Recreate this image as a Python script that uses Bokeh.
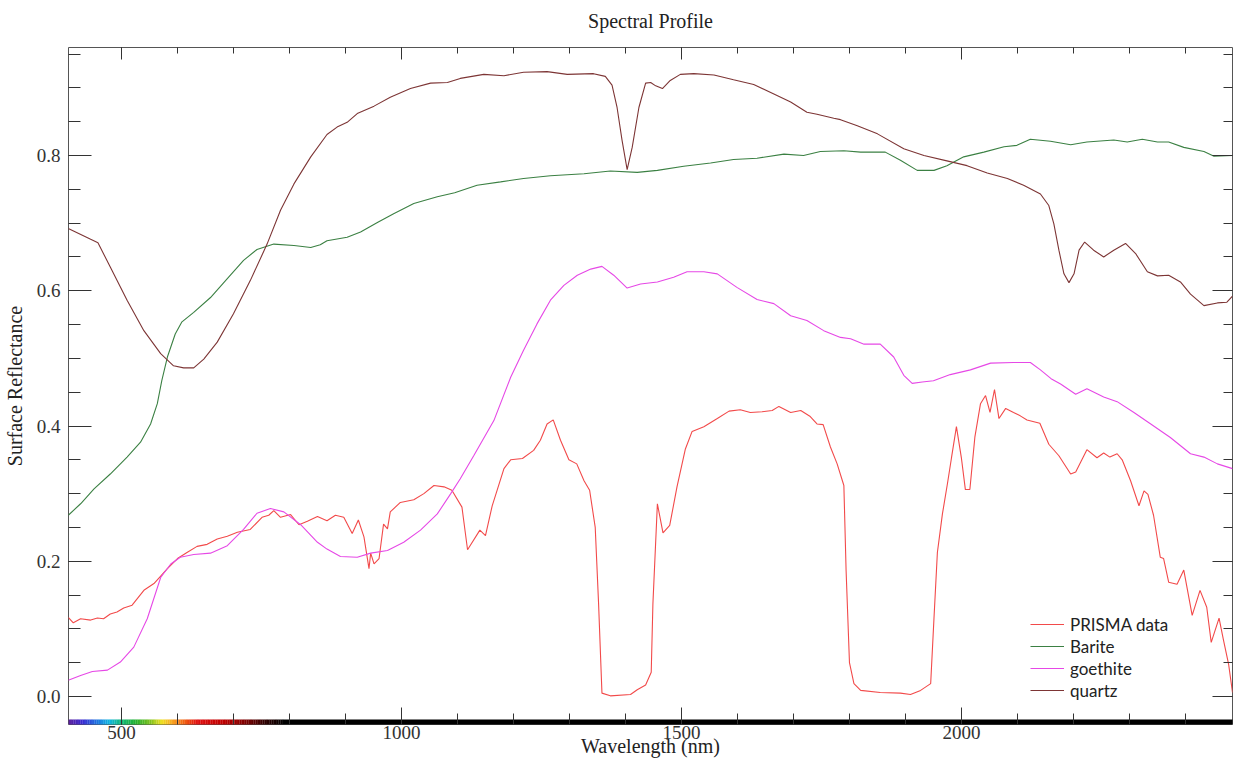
from bokeh.plotting import figure
from bokeh.models import (LinearAxis, SingleIntervalTicker, PrintfTickFormatter, CustomJSTickFormatter,
                          Legend, LegendItem, ColumnDataSource, Range1d)
from bokeh.embed import file_html
from bokeh.resources import INLINE

# ---------------- data ----------------
prisma_nm = [405, 414, 427, 445, 457, 468, 480, 492, 504, 519, 540, 558, 582, 600, 617, 635, 653, 671,
             689, 707, 730, 751, 763, 772, 784, 802, 817, 832, 850, 867, 882, 897, 912, 923, 933, 942,
             945, 951, 960, 968, 975, 980, 998, 1022, 1040, 1058, 1076, 1090, 1108, 1118, 1140, 1150,
             1162, 1183, 1195, 1216, 1236, 1248, 1260, 1271, 1284, 1299, 1313, 1326, 1336, 1346, 1352,
             1358, 1373, 1409, 1421, 1436, 1446, 1449, 1457, 1467, 1479, 1492, 1507, 1519, 1540, 1564,
             1585, 1605, 1623, 1644, 1662, 1674, 1695, 1713, 1730, 1742, 1753, 1766, 1778, 1790, 1794,
             1800, 1808, 1820, 1855, 1891, 1909, 1927, 1945, 1951, 1957, 1966, 1975, 1982, 1991, 2000,
             2007, 2015, 2024, 2034, 2043, 2051, 2059, 2067, 2079, 2093, 2105, 2117, 2140, 2156, 2174,
             2195, 2204, 2224, 2242, 2254, 2265, 2278, 2287, 2302, 2317, 2326, 2333, 2343, 2355, 2361,
             2370, 2385, 2397, 2412, 2426, 2438, 2446, 2460, 2468, 2477, 2484]
prisma_val = [0.117, 0.109, 0.115, 0.113, 0.116, 0.115, 0.122, 0.125, 0.131, 0.135, 0.157, 0.167, 0.189,
              0.204, 0.213, 0.222, 0.225, 0.233, 0.237, 0.243, 0.247, 0.265, 0.268, 0.275, 0.265, 0.269,
              0.254, 0.259, 0.266, 0.260, 0.268, 0.265, 0.241, 0.261, 0.236, 0.189, 0.212, 0.196, 0.204,
              0.255, 0.248, 0.273, 0.287, 0.291, 0.300, 0.312, 0.310, 0.305, 0.280, 0.217, 0.246, 0.238,
              0.282, 0.337, 0.350, 0.352, 0.364, 0.379, 0.403, 0.409, 0.379, 0.350, 0.344, 0.319, 0.305,
              0.250, 0.137, 0.005, 0.001, 0.003, 0.010, 0.017, 0.036, 0.137, 0.285, 0.242, 0.253, 0.310,
              0.366, 0.392, 0.399, 0.411, 0.422, 0.424, 0.420, 0.421, 0.423, 0.429, 0.420, 0.423, 0.414,
              0.403, 0.402, 0.369, 0.344, 0.312, 0.186, 0.050, 0.019, 0.009, 0.006, 0.005, 0.003, 0.009,
              0.019, 0.117, 0.213, 0.270, 0.315, 0.352, 0.399, 0.352, 0.306, 0.306, 0.384, 0.433, 0.445,
              0.420, 0.454, 0.411, 0.426, 0.420, 0.415, 0.409, 0.404, 0.373, 0.356, 0.329, 0.332, 0.365,
              0.353, 0.360, 0.354, 0.359, 0.350, 0.319, 0.282, 0.304, 0.299, 0.268, 0.206, 0.204, 0.169,
              0.166, 0.187, 0.120, 0.157, 0.132, 0.080, 0.116, 0.083, 0.048, 0.006]

barite_nm = [405, 427, 451, 480, 510, 534, 552, 564, 572, 582, 596, 608, 629, 659, 689, 718, 742, 772,
             808, 838, 855, 867, 903, 927, 957, 986, 1022, 1064, 1095, 1135, 1177, 1218, 1266, 1326,
             1373, 1421, 1457, 1504, 1552, 1593, 1635, 1683, 1718, 1748, 1790, 1820, 1864, 1891, 1921,
             1951, 1974, 2004, 2040, 2076, 2099, 2123, 2159, 2195, 2224, 2272, 2296, 2323, 2350, 2370,
             2397, 2433, 2451, 2484]
barite_val = [0.268, 0.285, 0.307, 0.329, 0.354, 0.376, 0.403, 0.433, 0.467, 0.502, 0.536, 0.554, 0.568,
              0.590, 0.618, 0.645, 0.661, 0.669, 0.667, 0.664, 0.668, 0.674, 0.679, 0.687, 0.701, 0.714,
              0.729, 0.739, 0.745, 0.756, 0.761, 0.766, 0.770, 0.773, 0.777, 0.775, 0.778, 0.784, 0.789,
              0.794, 0.796, 0.802, 0.800, 0.806, 0.807, 0.805, 0.805, 0.793, 0.778, 0.778, 0.785, 0.798,
              0.805, 0.813, 0.815, 0.824, 0.821, 0.816, 0.820, 0.823, 0.820, 0.824, 0.820, 0.820, 0.812,
              0.806, 0.799, 0.800]

goethite_nm = [405, 427, 448, 475, 498, 522, 546, 570, 588, 605, 629, 659, 689, 718, 742, 766, 790, 820,
               850, 867, 891, 921, 945, 975, 1004, 1034, 1064, 1088, 1105, 1129, 1165, 1195, 1218, 1242,
               1266, 1290, 1314, 1338, 1358, 1379, 1403, 1427, 1457, 1486, 1510, 1540, 1564, 1599, 1635,
               1665, 1695, 1724, 1754, 1784, 1802, 1826, 1855, 1879, 1897, 1912, 1930, 1950, 1980, 2016,
               2052, 2093, 2123, 2141, 2160, 2177, 2204, 2224, 2254, 2278, 2308, 2338, 2373, 2409, 2433,
               2457, 2484]
goethite_val = [0.024, 0.031, 0.037, 0.039, 0.051, 0.073, 0.115, 0.176, 0.196, 0.206, 0.210, 0.212, 0.223,
                0.247, 0.271, 0.278, 0.273, 0.254, 0.228, 0.218, 0.207, 0.206, 0.212, 0.216, 0.228, 0.246,
                0.270, 0.300, 0.322, 0.356, 0.408, 0.472, 0.512, 0.551, 0.586, 0.608, 0.623, 0.632, 0.636,
                0.623, 0.604, 0.610, 0.613, 0.620, 0.628, 0.628, 0.625, 0.605, 0.587, 0.581, 0.563, 0.556,
                0.541, 0.531, 0.529, 0.521, 0.521, 0.502, 0.475, 0.463, 0.465, 0.467, 0.476, 0.483, 0.493,
                0.494, 0.494, 0.483, 0.470, 0.462, 0.447, 0.455, 0.443, 0.436, 0.420, 0.403, 0.383, 0.359,
                0.354, 0.344, 0.337]

quartz_nm = [405, 445, 458, 480, 510, 540, 570, 593, 611, 629, 647, 671, 700, 730, 760, 784, 808, 838,
             867, 885, 903, 921, 951, 980, 1016, 1052, 1082, 1105, 1147, 1183, 1218, 1260, 1296, 1343,
             1364, 1376, 1385, 1394, 1403, 1412, 1424, 1436, 1445, 1454, 1466, 1480, 1498, 1522, 1558,
             1593, 1629, 1665, 1695, 1724, 1742, 1772, 1784, 1814, 1850, 1897, 1933, 1974, 2010, 2046,
             2082, 2111, 2141, 2156, 2165, 2174, 2183, 2192, 2201, 2210, 2220, 2236, 2254, 2272, 2293,
             2311, 2332, 2350, 2370, 2391, 2409, 2433, 2457, 2474, 2484]
quartz_val = [0.692, 0.676, 0.671, 0.635, 0.586, 0.541, 0.507, 0.489, 0.486, 0.486, 0.499, 0.524, 0.566,
              0.615, 0.669, 0.719, 0.758, 0.798, 0.831, 0.842, 0.849, 0.862, 0.873, 0.886, 0.899, 0.907,
              0.908, 0.914, 0.920, 0.918, 0.923, 0.924, 0.920, 0.921, 0.917, 0.904, 0.871, 0.822, 0.779,
              0.812, 0.871, 0.907, 0.908, 0.903, 0.899, 0.911, 0.920, 0.921, 0.919, 0.912, 0.905, 0.891,
              0.879, 0.864, 0.861, 0.855, 0.853, 0.844, 0.832, 0.810, 0.800, 0.792, 0.785, 0.774, 0.766,
              0.756, 0.743, 0.726, 0.699, 0.660, 0.625, 0.612, 0.625, 0.660, 0.672, 0.660, 0.650, 0.660,
              0.670, 0.655, 0.628, 0.622, 0.623, 0.613, 0.595, 0.578, 0.582, 0.583, 0.592]

series_names = ["PRISMA data", "Barite", "goethite", "quartz"]
series_colors = ["#f24a4a", "#3b8043", "#e648e6", "#7d3535"]

# visible-light colour strip along the wavelength axis (stop wavelength, colour)
spectrum_nm = [405, 430, 455, 478, 500, 525, 550, 572, 592, 612, 635, 680, 720, 755, 790]
spectrum_col = ["#5a1e9a", "#3a2ad0", "#1f6fe0", "#10b5e0", "#12b878", "#22b030", "#78c020",
                "#f0e020", "#f8a020", "#f06010", "#e01010", "#c00000", "#800000", "#300000", "#000000"]

x_ticks_interval = 500
y_ticks_interval = 0.2

# ---------------- figure ----------------
X0, X1 = 405.4, 2484.0
Y0, Y1 = -0.0414, 0.9597
W, H = 1233, 761
SERIF = "Liberation Serif"

p = figure(width=W, height=H, x_range=Range1d(X0, X1), y_range=Range1d(Y0, Y1),
           output_backend="svg", toolbar_location=None,
           min_border_left=68, min_border_right=1, min_border_top=47, min_border_bottom=37,
           background_fill_color="white", border_fill_color="white")
p.xgrid.visible = False
p.ygrid.visible = False
p.outline_line_color = "#555555"
p.outline_line_width = 1
p.title.text = ""
p.title.visible = False


def style_axis(ax, interval, minor, major_in, minor_in, labels):
    ax.ticker = SingleIntervalTicker(interval=interval, num_minor_ticks=minor)
    ax.axis_line_color = None
    ax.major_tick_in = major_in
    ax.major_tick_out = 0
    ax.minor_tick_in = minor_in
    ax.minor_tick_out = 0
    ax.major_tick_line_color = "#333333"
    ax.minor_tick_line_color = "#333333"
    ax.axis_label_text_font = SERIF
    ax.axis_label_text_font_size = "20px"
    ax.axis_label_text_font_style = "normal"
    ax.axis_label_text_color = "#222222"
    if labels:
        ax.major_label_text_font = SERIF
        ax.major_label_text_font_size = "19px"
        ax.major_label_text_color = "#333333"
    else:
        ax.formatter = CustomJSTickFormatter(code="return '';")
        ax.major_label_standoff = 0


xb = p.xaxis[0]
style_axis(xb, x_ticks_interval, 5, 17, 11, True)
xb.axis_label = "Wavelength (nm)"
xb.major_label_standoff = 1
xb.axis_label_standoff = -7

yl = p.yaxis[0]
style_axis(yl, y_ticks_interval, 4, 23, 12, True)
yl.formatter = PrintfTickFormatter(format="%.1f")
yl.axis_label = "Surface Reflectance"
yl.major_label_standoff = 8
yl.axis_label_standoff = 8

# top axis: inward ticks only, its label serves as the chart title
xt = LinearAxis()
style_axis(xt, x_ticks_interval, 5, 12, 6, False)
xt.axis_label = "Spectral Profile"
xt.axis_label_standoff = 16
p.add_layout(xt, "above")

yr = LinearAxis()
style_axis(yr, y_ticks_interval, 4, 20, 9, False)
p.add_layout(yr, "right")

# colour strip drawn along the bottom of the frame (5 px tall)
FRAME_H = 724 - 47
strip_top = Y0 + 5 * (Y1 - Y0) / FRAME_H


def hex2rgb(h):
    return tuple(int(h[i:i + 2], 16) for i in (1, 3, 5))


lefts, rights, cols = [], [], []
for i in range(len(spectrum_nm) - 1):
    a, b = spectrum_nm[i], spectrum_nm[i + 1]
    ca, cb = hex2rgb(spectrum_col[i]), hex2rgb(spectrum_col[i + 1])
    n = max(1, int((b - a) / 3))
    for k in range(n):
        t = (k + 0.5) / n
        c = tuple(int(round(ca[j] + (cb[j] - ca[j]) * t)) for j in range(3))
        lefts.append(a + (b - a) * k / n)
        rights.append(a + (b - a) * (k + 1) / n + 0.3)
        cols.append("#%02x%02x%02x" % c)
lefts.append(spectrum_nm[-1])
rights.append(X1 + 10)
cols.append("#000000")
strip = ColumnDataSource(dict(left=lefts, right=rights, color=cols))
p.quad(left="left", right="right", bottom=Y0 - 0.01, top=strip_top, color="color",
       line_color=None, source=strip)

# spectra
data = [(prisma_nm, prisma_val), (barite_nm, barite_val),
        (goethite_nm, goethite_val), (quartz_nm, quartz_val)]
renderers = []
for (xs, ys), col in zip(data, series_colors):
    r = p.line(xs, ys, line_color=col, line_width=1.1)
    renderers.append(r)

items = [LegendItem(label=n, renderers=[r]) for n, r in zip(series_names, renderers)]
legend = Legend(items=items, location=(962, 23), padding=0, margin=0, spacing=0,
                label_height=22, glyph_height=22, glyph_width=34, label_standoff=6,
                label_text_font="Lato", label_text_font_size="17px", label_text_color="#222222",
                background_fill_alpha=0, border_line_color=None)
p.add_layout(legend)

open("out.html", "w").write(file_html(p, INLINE))
